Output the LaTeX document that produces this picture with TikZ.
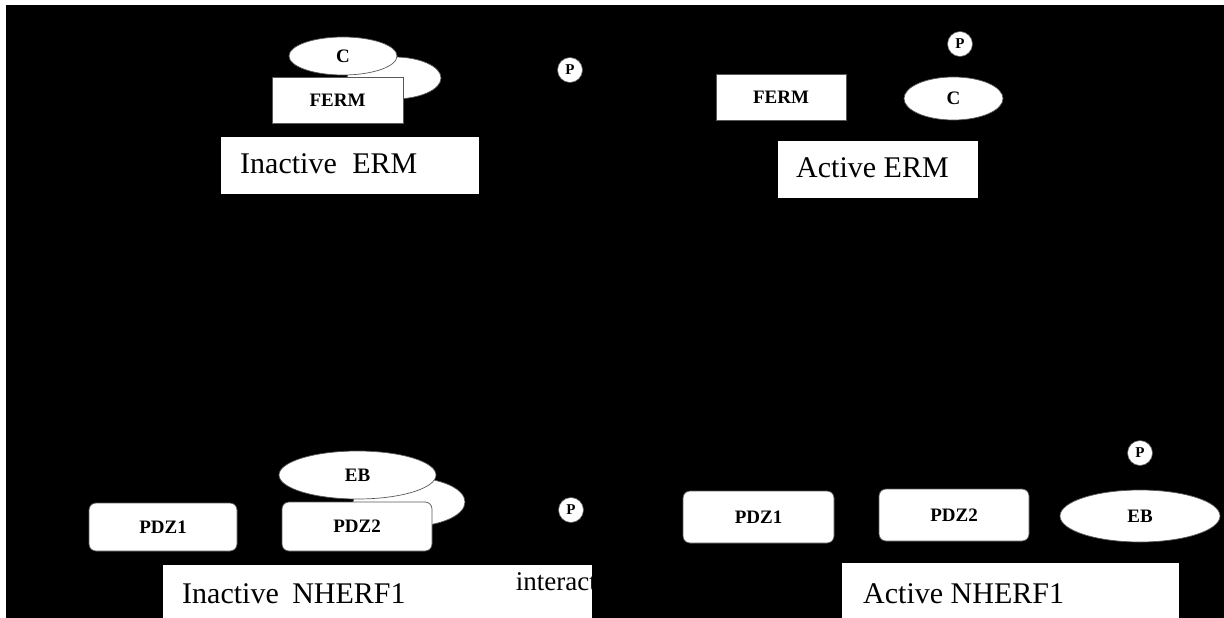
\documentclass[tikz,border=0pt]{standalone}
\usepackage{fontspec}
\setmainfont{Liberation Serif}
\usetikzlibrary{shapes.geometric}
\tikzset{
  dom/.style={draw=black!65, line width=0.7pt, fill=white, inner sep=0pt,
    font=\fontsize{19}{22}\selectfont\bfseries},
  blob/.style={dom, ellipse},
  sq/.style={dom, rectangle},
  rsq/.style={dom, rectangle, rounded corners=7pt},
  phos/.style={circle, draw=black!65, line width=0.6pt, fill=white, inner sep=0pt,
    minimum size=25pt, font=\fontsize{15}{17}\selectfont\bfseries},
  labelbox/.style={rectangle, fill=white, draw=none, inner sep=0pt},
  title/.style={font=\fontsize{30}{36}\selectfont, anchor=base west, inner sep=0pt},
  note/.style={font=\fontsize{27}{32}\selectfont, anchor=base east, inner sep=0pt},
}
\begin{document}
\begin{tikzpicture}[x=1pt,y=-1pt]
\useasboundingbox (0,0) rectangle (1224,618);
\fill[black] (0,0) rectangle (1224,618);
\fill[white] (0,0) rectangle (1224,5);
\fill[white] (0,0) rectangle (6,618);

% ---------- Inactive ERM ----------
\node[blob, minimum width=94pt, minimum height=42pt] (cback) at (394,78) {};
\node[blob, minimum width=108pt, minimum height=38pt] (cin) at (343,56) {C};
\node[sq, minimum width=131pt, minimum height=46pt] (fermin) at (337.5,100) {FERM};
\node[phos] (p1) at (570,70) {P};
\node[labelbox, minimum width=258pt, minimum height=57pt] (ermin) at (350,165.5) {};
\node[title] (ermintxt) at (240,173) {Inactive\hspace{8pt} ERM};

% ---------- Active ERM ----------
\node[sq, minimum width=130pt, minimum height=46pt] (fermact) at (781,97) {FERM};
\node[blob, minimum width=99pt, minimum height=43pt] (cact) at (953.5,98.5) {C};
\node[phos] (p2) at (960,44) {P};
\node[labelbox, minimum width=200pt, minimum height=57pt] (ermact) at (878,169.5) {};
\node[title] (ermacttxt) at (796,177) {Active ERM};

% ---------- Inactive NHERF1 ----------
\node[blob, minimum width=112pt, minimum height=49pt] (ebback) at (409,502) {};
\node[blob, minimum width=157pt, minimum height=48pt] (ebin) at (357.5,475) {EB};
\node[rsq, minimum width=148pt, minimum height=48pt] (pdz1in) at (163,527) {PDZ1};
\node[rsq, minimum width=150pt, minimum height=49pt] (pdz2in) at (357,526.5) {PDZ2};
\node[phos] (p3) at (571,510) {P};
\node[labelbox, minimum width=429pt, minimum height=55pt] (nhin) at (377.5,592.5) {};
\node[title] (nhintxt) at (182,603) {Inactive\hspace{6pt} NHERF1};
\begin{scope}
  \clip (163,565) rectangle (592,620);
  \node[note] (inter) at (597,590) {interact};
\end{scope}

% ---------- Active NHERF1 ----------
\node[rsq, minimum width=151pt, minimum height=52pt] (pdz1act) at (758.5,517) {PDZ1};
\node[rsq, minimum width=150pt, minimum height=52pt] (pdz2act) at (954,515) {PDZ2};
\node[blob, minimum width=160pt, minimum height=52pt] (ebact) at (1140,516) {EB};
\node[phos] (p4) at (1140,453) {P};
\node[labelbox, minimum width=337pt, minimum height=57pt] (nhact) at (1010.5,591.5) {};
\node[title] (nhacttxt) at (863,603) {Active NHERF1};
\end{tikzpicture}
\end{document}
